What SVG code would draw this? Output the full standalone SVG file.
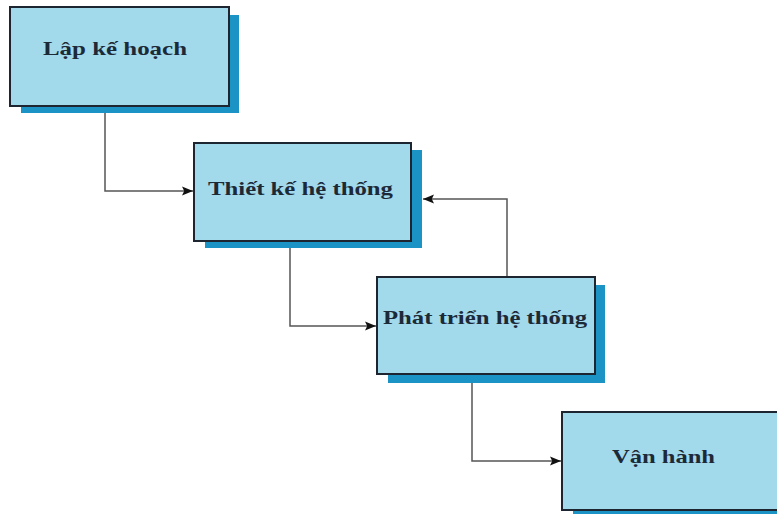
<svg xmlns="http://www.w3.org/2000/svg" width="777" height="514" viewBox="0 0 777 514">
<defs>
<style>
.shadow{fill:#1b93c4}
.box{fill:#a2d9eb;stroke:#1d2630;stroke-width:2}
.lbl{font-family:"Liberation Serif","Times New Roman",serif;font-weight:bold;font-size:19px;fill:#1c2a38}
.conn{fill:none;stroke:#555;stroke-width:1.5}
</style>
<marker id="arr" viewBox="0 0 10 10" refX="10" refY="5" markerWidth="11" markerHeight="11" markerUnits="userSpaceOnUse" orient="auto">
<path d="M0,1 L10,5 L0,9 L2,5 Z" fill="#111"/>
</marker>
</defs>
<rect width="777" height="514" fill="#fff"/>
<g id="connectors">
<path class="conn" d="M105,107 V191 H193" marker-end="url(#arr)"/>
<path class="conn" d="M290,242 V326 H376" marker-end="url(#arr)"/>
<path class="conn" d="M507,277 V199 H423" marker-end="url(#arr)"/>
<path class="conn" d="M472,375 V461 H561" marker-end="url(#arr)"/>
</g>
<g id="lap-ke-hoach">
<rect class="shadow" x="21" y="15" width="218" height="98"/>
<rect class="box" x="10" y="7" width="219" height="99"/>
<text class="lbl" x="43" y="55" textLength="144" lengthAdjust="spacingAndGlyphs">Lập kế hoạch</text>
</g>
<g id="thiet-ke-he-thong">
<rect class="shadow" x="205" y="150" width="217" height="98"/>
<rect class="box" x="194" y="143" width="217" height="98"/>
<text class="lbl" x="208" y="195" textLength="185" lengthAdjust="spacingAndGlyphs">Thiết kế hệ thống</text>
</g>
<g id="phat-trien-he-thong">
<rect class="shadow" x="388" y="285" width="217" height="98"/>
<rect class="box" x="377" y="277" width="218" height="97"/>
<text class="lbl" x="383" y="324" textLength="204" lengthAdjust="spacingAndGlyphs">Phát triển hệ thống</text>
</g>
<g id="van-hanh">
<rect class="shadow" x="573" y="418" width="220" height="100"/>
<rect class="box" x="562" y="412" width="230" height="98"/>
<text class="lbl" x="612" y="463" textLength="103" lengthAdjust="spacingAndGlyphs">Vận hành</text>
</g>
</svg>
